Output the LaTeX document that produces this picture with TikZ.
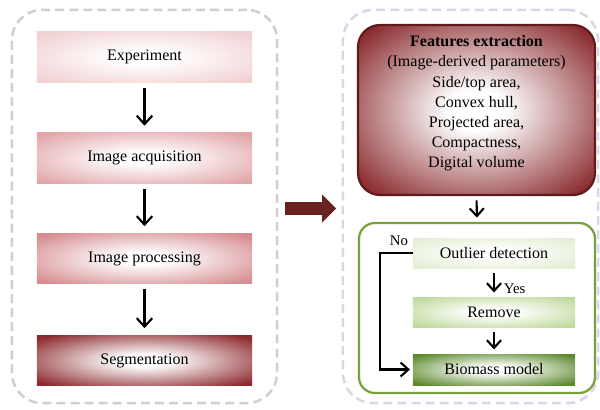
\documentclass[tikz,border=0pt]{standalone}
\usepackage{fontspec}
\setmainfont{Liberation Serif}
\usetikzlibrary{arrows.meta}

% colours of the diagram
\definecolor{panelgray}{HTML}{CFCFCF}
\definecolor{panellilac}{HTML}{DAD6E6}
\definecolor{exppink}{HTML}{F1D1D3}
\definecolor{acqpink}{HTML}{E2A6A9}
\definecolor{procpink}{HTML}{D68C90}
\definecolor{segred}{HTML}{8C2A2E}
\definecolor{featred}{HTML}{88282B}
\definecolor{featedge}{HTML}{5E1A1C}
\definecolor{bigarrowred}{HTML}{6A2122}
\definecolor{leafgreen}{HTML}{77A03C}
\definecolor{outgreen}{HTML}{E4EED4}
\definecolor{remgreen}{HTML}{BFD99A}
\definecolor{biogreen}{HTML}{5A882A}

% white centre fading out to the box colour
\colorlet{glowc}{white}
\pgfdeclareradialshading[glowc]{glow}{\pgfpointorigin}{color(0bp)=(white); color(6bp)=(white); color(33bp)=(glowc); color(50bp)=(glowc)}

\tikzset{
    glowfill/.style={shade, shading=glow, /utils/exec={\colorlet{glowc}{#1}}},
    boxfont/.style={font=\fontsize{11.4}{14.2}\selectfont},
    panel/.style={draw=#1, line width=1.8pt, dash pattern=on 6.4pt off 3.6pt,
        rounded corners=0.75cm, minimum height=9.825cm},
    stepbox/.style={glowfill=#1, boxfont, minimum width=5.375cm, minimum height=1.25cm},
    modelbox/.style={glowfill=#1, boxfont, minimum width=4.05cm, minimum height=0.75cm},
    flowarrow/.style={line width=1.5pt, -{Straight Barb[length=6pt,width=11pt]},
        shorten <=4pt, shorten >=5pt},
    smallarrow/.style={line width=1.5pt, -{Straight Barb[length=5.5pt,width=10pt]},
        shorten <=3pt, shorten >=3pt},
    smalllabel/.style={font=\fontsize{10.5}{12}\selectfont}
}

\begin{document}
\begin{tikzpicture}[x=0.025cm, y=-0.025cm]

    \useasboundingbox (0,0) rectangle (600,409);

    % Draw the two dashed panels
    \node[panel=panelgray, minimum width=6.625cm] (leftpanel) at (144.5,206.5) {};
    \node[panel=panellilac, minimum width=6.375cm] (rightpanel) at (470.5,206.5) {};

    % Steps of the image pipeline
    \node[stepbox=exppink] (exp) at (144.5,57) {Experiment};
    \node[stepbox=acqpink] (acq) at (144.5,158) {Image acquisition};
    \node[stepbox=procpink] (proc) at (144.5,258.5) {Image processing};
    \node[stepbox=segred] (seg) at (144.5,360.5) {Segmentation};

    \draw[flowarrow] (exp) -- (acq);
    \draw[flowarrow] (acq) -- (proc);
    \draw[flowarrow] (proc) -- (seg);

    % Big arrow between the panels
    \draw[bigarrowred, line width=9.2pt, -{Triangle[length=10pt,width=19.5pt]},
        shorten <=4.8pt, shorten >=4pt]
        ([yshift=-1.4pt]leftpanel.east) -- ([yshift=-1.4pt]rightpanel.west);

    % Features extraction box
    \node[glowfill=featred, draw=featedge, line width=1.5pt, rounded corners=0.55cm,
        minimum width=5.925cm, minimum height=4.25cm] (feat) at (476.5,110) {};
    \node[boxfont, align=center] (feattext) at (476.5,103)
        {\textbf{Features extraction}\\(Image-derived parameters)\\[1pt]
         Side/top area,\\Convex hull,\\Projected area,\\Compactness,\\Digital volume};

    % Modelling box
    \node[draw=leafgreen, line width=1.6pt, rounded corners=0.4cm,
        minimum width=5.9cm, minimum height=4.25cm] (model) at (477,308) {};
    \node[modelbox=outgreen] (outlier) at (494,253) {Outlier detection};
    \node[modelbox=remgreen] (remove) at (494,312) {Remove};
    \node[modelbox=biogreen, minimum height=0.775cm] (biomass) at (494,369.5) {Biomass model};

    \draw[smallarrow] (feat.south) -- (model.north);
    \draw[smallarrow] (outlier) -- node[smalllabel, pos=0.72, right, xshift=3pt] (yes) {Yes} (remove);
    \draw[smallarrow] (remove) -- (biomass);
    \draw[smallarrow, shorten <=0pt, shorten >=2pt] (outlier.west) -- ++(-33,0) |- (biomass.west);
    \node[smalllabel] (no) at (399,241) {No};

\end{tikzpicture}
\end{document}
